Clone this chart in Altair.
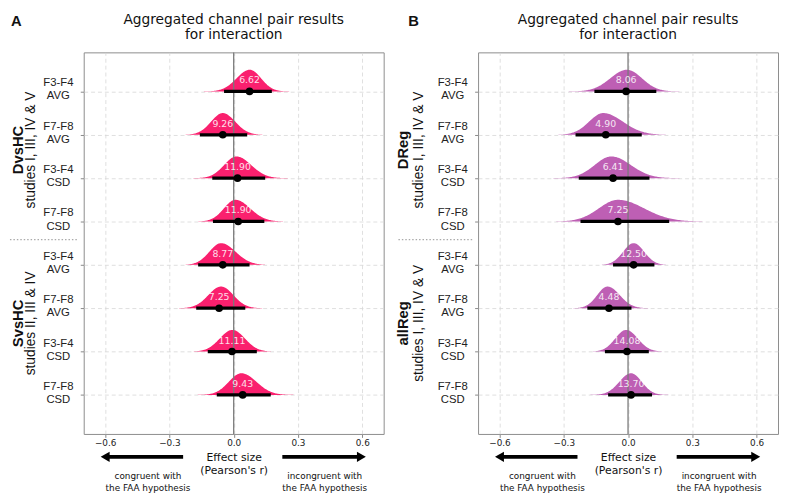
import altair as alt
import pandas as pd

# ---------------- data ----------------
pair_labels = ["F3-F4", "F7-F8", "F3-F4", "F7-F8", "F3-F4", "F7-F8", "F3-F4", "F7-F8"]
ref_labels = ["AVG", "AVG", "CSD", "CSD", "AVG", "AVG", "CSD", "CSD"]

# Panel A
a_groups = ["DvsHC", "SvsHC"]
a_studies = ["studies I, III, IV & V", "studies II, III & IV"]
a_point = [0.074, -0.051, 0.018, 0.021, -0.051, -0.068, -0.008, 0.042]
a_lo = [-0.045, -0.158, -0.100, -0.097, -0.166, -0.175, -0.121, -0.079]
a_hi = [0.178, 0.063, 0.147, 0.143, 0.074, 0.054, 0.108, 0.173]
a_mode = [0.075, -0.051, 0.013, 0.008, -0.059, -0.059, -0.006, 0.036]
a_label = ["6.62", "9.26", "11.90", "11.90", "8.77", "7.25", "11.11", "9.43"]

# Panel B
b_groups = ["DReg", "allReg"]
b_studies = ["studies I, III, IV & V", "studies I, III, IV & V"]
b_point = [-0.009, -0.104, -0.070, -0.047, 0.026, -0.089, -0.005, 0.014]
b_lo = [-0.157, -0.245, -0.230, -0.222, -0.070, -0.190, -0.108, -0.093]
b_hi = [0.132, 0.064, 0.100, 0.192, 0.123, 0.016, 0.097, 0.112]
b_mode = [-0.005, -0.116, -0.078, -0.047, 0.026, -0.096, -0.009, 0.014]
b_label = ["8.06", "4.90", "6.41", "7.25", "12.50", "4.48", "14.08", "13.70"]

group_center = [1.35, 5.35]
separator_row = [3.42]
x_ticks = [-0.6, -0.3, 0.0, 0.3, 0.6]
title_text = "Aggregated channel pair results\nfor interaction"
xtitle_lines = ["Effect size", "(Pearson's r)"]
left_note = "congruent with\nthe FAA hypothesis"
right_note = "incongruent with\nthe FAA hypothesis"
left_arrow = [-0.60, -0.236]   # head end, tail end
right_arrow = [0.227, 0.596]   # tail end, head end
note_x = [-0.40, 0.425]

# ---------------- layout ----------------
W, H = 305, 388
XDOM = [-0.7, 0.7]
YDOM = [-0.9, 7.9]
GRID = "#d6d6d6"


def make_panel(letter, color, groups, studies, point, lo, hi, mode, labels,
               letter_x, bold_x, studies_x, sep_x0, sep_x1):
    rows = pd.DataFrame({"row": list(range(8)), "point": point, "lo": lo,
                         "hi": hi, "mode": mode, "lab": labels})
    xscale = alt.Scale(domain=XDOM, nice=False, zero=False)
    yscale = alt.Scale(domain=YDOM, nice=False, zero=False, reverse=True)
    xaxis = alt.Axis(values=x_ticks, format=".1f", title=xtitle_lines, grid=True,
                     gridDash=[4, 3], gridColor=GRID, gridWidth=0.8, domain=False,
                     tickColor="#888", tickSize=3.5, labelFont="DejaVu Sans",
                     labelFontSize=9, labelColor="#222", labelPadding=1.5,
                     titleFont="DejaVu Sans", titleFontSize=11, titleFontWeight="normal",
                     titleColor="#111", titlePadding=4, titleLineHeight=13)
    label_expr = "[" + ",".join(f"['{p}','{r}']" for p, r in zip(pair_labels, ref_labels)) + "][datum.value]"
    yaxis = alt.Axis(values=list(range(8)), labelExpr=label_expr, title=None, grid=True,
                     gridDash=[4, 3], gridColor=GRID, gridWidth=0.8, domain=False,
                     tickColor="#888", tickSize=3.5, labelAlign="center",
                     labelBaseline="middle", labelPadding=22.8, labelOffset=-8.6,
                     labelFont="Liberation Sans",
                     labelFontSize=11.5, labelLineHeight=13.3, labelColor="#222")

    def X(f):
        return alt.X(f, type="quantitative", scale=xscale, axis=xaxis)

    def Y(f):
        return alt.Y(f, type="quantitative", scale=yscale, axis=yaxis)

    base = alt.Chart(rows)

    dens = base.transform_calculate(
        t="sequence(-3.5, 3.501, 0.05)"
    ).transform_flatten(["t"]).transform_calculate(
        xv="datum.mode + datum.t * (datum.t < 0 ? datum.mode - datum.lo : datum.hi - datum.mode) / 1.96",
        ytop="datum.row - 0.5 * exp(-0.5 * datum.t * datum.t)",
    ).mark_area(orient="vertical", color=color, opacity=1).encode(
        x=X("xv"), y=Y("ytop"), y2="row:Q", detail="row:N"
    )

    zero = alt.Chart(pd.DataFrame({"z": [0.0]})).mark_rule(
        color="#7a7a7a", strokeWidth=1.3).encode(x=X("z"))

    ci = base.mark_rule(color="black", strokeWidth=3.3).encode(
        x=X("lo"), x2="hi", y=Y("row"))

    pt = base.mark_circle(size=60, color="black", opacity=1).encode(
        x=X("point"), y=Y("row"))

    txt = base.transform_calculate(ly="datum.row - 0.254").mark_text(
        font="DejaVu Sans", fontSize=9.5, color="white", opacity=0.85,
        baseline="middle", align="center").encode(
        x=X("point"), y=Y("ly"), text="lab:N")

    gdf = pd.DataFrame({"g": groups, "s": studies, "gy": group_center})
    gbold = alt.Chart(gdf).mark_text(
        angle=270, font="Liberation Sans", fontSize=15, fontWeight="bold",
        baseline="middle", align="center", color="#111").encode(
        x=alt.value(bold_x), y=Y("gy"), text="g:N")
    gstud = alt.Chart(gdf).mark_text(
        angle=270, font="Liberation Sans", fontSize=14, fontWeight="normal",
        baseline="middle", align="center", color="#111").encode(
        x=alt.value(studies_x), y=Y("gy"), text="s:N")

    sep = alt.Chart(pd.DataFrame({"sy": separator_row})).mark_rule(
        color="#aaaaaa", strokeDash=[1.5, 2], strokeWidth=1.2).encode(
        x=alt.value(sep_x0), x2=alt.value(sep_x1), y=Y("sy"))

    arr = pd.DataFrame({"x0": [left_arrow[0], right_arrow[0]],
                        "x1": [left_arrow[1], right_arrow[1]]})
    arrows = alt.Chart(arr).mark_rule(color="black", strokeWidth=4).encode(
        x=X("x0"), x2="x1", y=alt.value(H + 23.3))
    heads = pd.DataFrame({"hx": [left_arrow[0], right_arrow[1]],
                          "shp": ["triangle-left", "triangle-right"]})
    head = alt.Chart(heads).mark_point(filled=True, color="black", size=110,
                                       opacity=1, strokeWidth=0).encode(
        x=X("hx"), y=alt.value(H + 23.3), shape=alt.Shape("shp:N", scale=None))
    notes = pd.DataFrame({"nx": note_x, "nt": [left_note, right_note]})
    note = alt.Chart(notes).mark_text(
        font="DejaVu Sans", fontSize=9, lineBreak="\n", lineHeight=12.6,
        baseline="middle", align="center", color="#111").encode(
        x=X("nx"), y=alt.value(H + 42.5), text="nt:N")

    let = alt.Chart(pd.DataFrame({"L": [letter]})).mark_text(
        font="Liberation Sans", fontSize=15, fontWeight="bold", align="left",
        baseline="top", color="#111").encode(
        x=alt.value(letter_x), y=alt.value(-39), text="L:N")

    ttl = alt.Chart(pd.DataFrame({"T": [title_text]})).mark_text(
        font="DejaVu Sans", fontSize=14, lineBreak="\n", lineHeight=15,
        align="center", baseline="middle", color="#111").encode(
        x=alt.value(W / 2), y=alt.value(-33), text="T:N")

    return alt.layer(dens, zero, ci, pt, txt, gbold, gstud, sep, arrows, head, note,
                     let, ttl).properties(width=W, height=H)


pa = make_panel("A", "#fa206e", a_groups, a_studies, a_point, a_lo, a_hi, a_mode, a_label,
                -74, -67, -53.5, -75, -6)
pb = make_panel("B", "#be5fb4", b_groups, b_studies, b_point, b_lo, b_hi, b_mode, b_label,
                -71, -76, -60.5, -81, -4)

chart = alt.hconcat(pa, pb, spacing=11, padding=0).configure_view(
    stroke="#8c8c8c", strokeWidth=1
).properties(background="white")

chart.save("out.html", embed_options={"renderer": "svg", "actions": False})
